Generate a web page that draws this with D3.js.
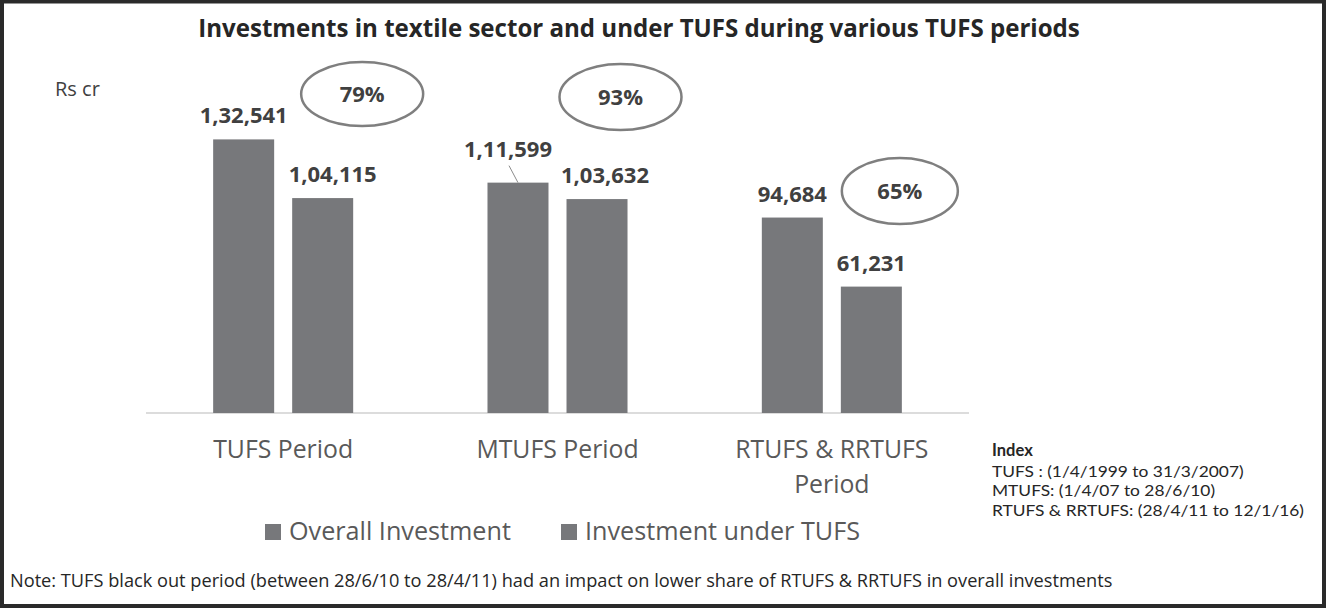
<!DOCTYPE html>
<html>
<head>
<meta charset="utf-8">
<script src="https://cdn.jsdelivr.net/npm/d3@7"></script>
<style>
  body { margin: 0; background: #fff; }
  text { font-family: "Open Sans", Lato, sans-serif; }
</style>
</head>
<body>
<div id="container"></div>
<script>
let w = 1341;
let h = 611;

// data
let periods = ["TUFS Period", "MTUFS Period", "RTUFS & RRTUFS Period"];
let periodLines = [["TUFS Period"], ["MTUFS Period"], ["RTUFS & RRTUFS", "Period"]];
let seriesNames = ["Overall Investment", "Investment under TUFS"];
let overallInvestment = [132541, 111599, 94684];
let tufsInvestment = [104115, 103632, 61231];
let valueLabels = [["1,32,541", "1,04,115"], ["1,11,599", "1,03,632"], ["94,684", "61,231"]];
let indexLines = ["TUFS : (1/4/1999 to 31/3/2007)", "MTUFS: (1/4/07 to 28/6/10)", "RTUFS & RRTUFS: (28/4/11 to 12/1/16)"];

let titleText = "Investments in textile sector and under TUFS during various TUFS periods";
let noteText = "Note: TUFS black out period (between 28/6/10 to 28/4/11) had an impact on lower share of RTUFS & RRTUFS  in overall investments";

let barColor = "#77787b";

let viz = d3.select("#container")
  .append("svg")
    .attr("width", w)
    .attr("height", h)
    .style("background-color", "white")
;

// scale a text's font size so it spans the given width
function fitSize(sel, target){
  let len = sel.node().getComputedTextLength();
  let fs = parseFloat(sel.attr("font-size"));
  let nfs = fs * target / len;
  sel.attr("font-size", nfs);
  return nfs;
}

// frame
viz.append("rect")
  .attr("x", 2).attr("y", 1.5)
  .attr("width", 1322).attr("height", 604.5)
  .attr("fill", "none")
  .attr("stroke", "#2a2a2a")
  .attr("stroke-width", 4)
;

let title = viz.append("text")
  .attr("x", 639).attr("y", 37)
  .attr("text-anchor", "middle")
  .attr("font-size", 20)
  .attr("font-weight", "bold")
  .attr("fill", "#262626")
  .text(titleText)
;
fitSize(title, 882);

viz.append("text")
  .attr("x", 55).attr("y", 96)
  .attr("font-size", 20)
  .attr("fill", "#404040")
  .text("Rs cr")
;

// scales
let xPadding = 0.4896;
let x0 = d3.scaleBand().domain(periods).range([146, 969]).paddingInner(xPadding).paddingOuter(xPadding / 2);
let x1 = d3.scaleBand().domain(seriesNames).range([0, x0.bandwidth()]).paddingInner(0.228);
let yScale = d3.scaleLinear().domain([0, 140000]).range([413, 124]);

let tableData = periods.map(function(p, i){
  return {
    period: p,
    lines: periodLines[i],
    values: [overallInvestment[i], tufsInvestment[i]],
    labels: valueLabels[i],
    share: Math.round(tufsInvestment[i] / overallInvestment[i] * 100)
  };
});

// axis baseline
viz.append("line")
  .attr("x1", 146).attr("x2", 969)
  .attr("y1", yScale(0)).attr("y2", yScale(0))
  .attr("stroke", "#d0d0d0")
  .attr("stroke-width", 1.5)
;

let groups = viz.selectAll(".datagroup").data(tableData).enter()
  .append("g")
    .attr("class", "datagroup")
    .attr("transform", function(d){ return "translate(" + x0(d.period) + ",0)"; })
;

function barData(d){
  return d.values.map(function(v, j){ return { name: seriesNames[j], value: v, label: d.labels[j], gi: periods.indexOf(d.period), j: j }; });
}

groups.selectAll("rect").data(barData).enter()
  .append("rect")
    .attr("x", function(b){ return x1(b.name); })
    .attr("y", function(b){ return yScale(b.value); })
    .attr("width", x1.bandwidth())
    .attr("height", function(b){ return yScale(0) - yScale(b.value); })
    .attr("fill", barColor)
;

// label nudges (where Excel labels were dragged)
let labelNudge = { "0-1": [10, 0], "1-0": [-10, -10], "1-1": [8, 0] };

groups.selectAll(".vlabel").data(barData).enter()
  .append("text")
    .attr("class", "vlabel")
    .attr("x", function(b){ let n = labelNudge[b.gi + "-" + b.j] || [0, 0]; return x1(b.name) + x1.bandwidth() / 2 + n[0]; })
    .attr("y", function(b){ let n = labelNudge[b.gi + "-" + b.j] || [0, 0]; return yScale(b.value) - 16 + n[1]; })
    .attr("text-anchor", "middle")
    .attr("font-size", 22)
    .attr("font-weight", "bold")
    .attr("fill", "#404040")
    .text(function(b){ return b.label; })
;

// leader line for the moved label
let g1 = tableData[1];
viz.append("line")
  .attr("x1", x0(g1.period) + x1(seriesNames[0]) + x1.bandwidth() / 2 - 9)
  .attr("y1", yScale(g1.values[0]) - 17)
  .attr("x2", x0(g1.period) + x1(seriesNames[0]) + x1.bandwidth() / 2)
  .attr("y2", yScale(g1.values[0]))
  .attr("stroke", "#8c8c8c")
  .attr("stroke-width", 1)
;

// percentage ellipses
let ellipseLayout = [
  { dx: 79, cy: 94, rx: 61, ry: 32 },
  { dx: 63, cy: 97, rx: 61, ry: 33 },
  { dx: 68, cy: 191, rx: 58, ry: 33 }
];

groups.append("ellipse")
  .attr("cx", function(d, i){ return x0.bandwidth() / 2 + ellipseLayout[i].dx; })
  .attr("cy", function(d, i){ return ellipseLayout[i].cy; })
  .attr("rx", function(d, i){ return ellipseLayout[i].rx; })
  .attr("ry", function(d, i){ return ellipseLayout[i].ry; })
  .attr("fill", "none")
  .attr("stroke", "#7f7f7f")
  .attr("stroke-width", 2.5)
;

groups.append("text")
  .attr("x", function(d, i){ return x0.bandwidth() / 2 + ellipseLayout[i].dx; })
  .attr("y", function(d, i){ return ellipseLayout[i].cy + 8; })
  .attr("text-anchor", "middle")
  .attr("font-size", 22)
  .attr("font-weight", "bold")
  .attr("fill", "#404040")
  .text(function(d){ return d.share + "%"; })
;

// category labels
let catLabels = groups.append("text")
  .attr("text-anchor", "middle")
  .attr("font-size", 24)
  .attr("fill", "#595959")
;
catLabels.selectAll("tspan").data(function(d){ return d.lines; }).enter()
  .append("tspan")
    .attr("x", x0.bandwidth() / 2)
    .attr("y", function(t, k){ return 458 + k * 35; })
    .text(function(t){ return t; })
;
let catSize = fitSize(d3.select(catLabels.nodes()[0]), 140);
catLabels.attr("font-size", catSize);

// legend
let legendX = [265, 561];
let legend = viz.selectAll(".legend").data(seriesNames).enter()
  .append("g")
    .attr("class", "legend")
    .attr("transform", function(d, i){ return "translate(" + legendX[i] + ",524)"; })
;
legend.append("rect")
  .attr("width", 16).attr("height", 16)
  .attr("fill", barColor)
;
let legendText = legend.append("text")
  .attr("x", 24).attr("y", 16)
  .attr("font-size", 24)
  .attr("fill", "#595959")
  .text(function(d){ return d; })
;
let legSize = fitSize(d3.select(legendText.nodes()[0]), 222);
legendText.attr("font-size", legSize);

// index box (narrower font so the tight lines don't collide)
let indexGroup = viz.append("g").attr("transform", "translate(992,0)");
let idxTexts = indexGroup.selectAll(".idx").data(indexLines).enter()
  .append("text")
    .attr("class", "idx")
    .attr("y", function(d, i){ return 476.5 + i * 19.5; })
    .style("font-family", "Lato, sans-serif")
    .attr("font-size", 16)
    .attr("fill", "#262626")
    .text(function(d){ return d; })
;
let idxStretch = 312 / idxTexts.nodes()[2].getComputedTextLength();
idxTexts.each(function(){
  let t = d3.select(this);
  t.attr("textLength", this.getComputedTextLength() * idxStretch)
   .attr("lengthAdjust", "spacingAndGlyphs");
});
indexGroup.append("text")
  .attr("y", 456)
  .style("font-family", "Lato, sans-serif")
  .attr("font-size", 16.5)
  .attr("font-weight", "bold")
  .attr("fill", "#262626")
  .text("Index")
;

let note = viz.append("text")
  .attr("x", 10).attr("y", 587)
  .attr("font-size", 16)
  .attr("fill", "#262626")
  .text(noteText)
;
fitSize(note, 1103);
</script>
</body>
</html>
